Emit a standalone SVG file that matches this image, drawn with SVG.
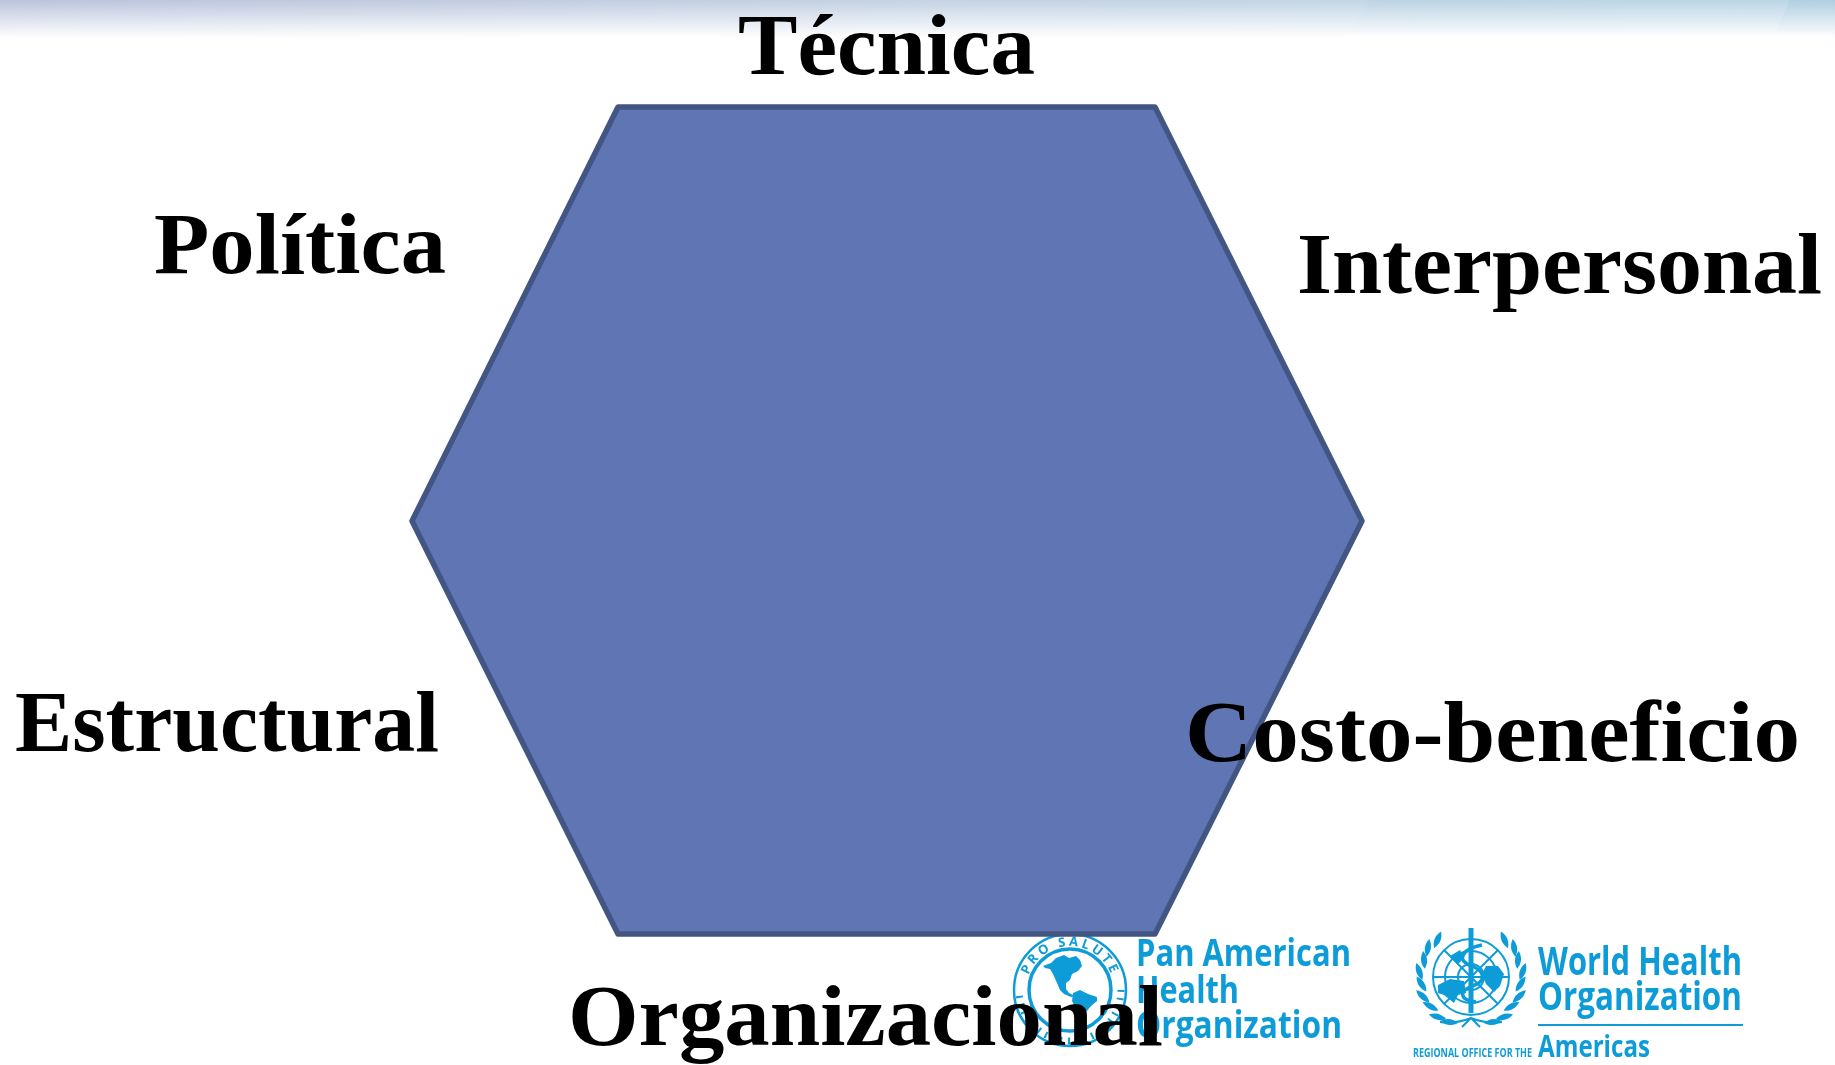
<svg xmlns="http://www.w3.org/2000/svg" xmlns:xlink="http://www.w3.org/1999/xlink" width="1835" height="1065" viewBox="0 0 1835 1065">
<style>
.lb{font-family:"Liberation Serif","DejaVu Serif",serif;font-weight:700;font-size:86px;fill:#000}
.lg{font-family:"Open Sans","Liberation Sans",sans-serif;font-weight:700;fill:#119cd8}
.ink{fill:#119cd8}
.rg{fill:none;stroke:#119cd8}
</style>
<defs>
<linearGradient id="h" x1="0" y1="0" x2="1" y2="0"><stop offset="0" stop-color="#bcc4dc"/><stop offset=".5" stop-color="#c4d2e3"/><stop offset="1" stop-color="#bfd8e6"/></linearGradient>
<linearGradient id="v" x1="0" y1="0" x2="0" y2="1"><stop offset="0" stop-color="#fff" stop-opacity="0"/><stop offset="1" stop-color="#fff"/></linearGradient>
<filter id="soft" x="-5%" y="-5%" width="110%" height="110%"><feGaussianBlur stdDeviation=".6"/></filter>
<path id="leaf" d="M0-9C4-3 4 3 0 9C-4 3-4-3 0-9Z" class="ink"/>
<path id="ring" d="M1026 990a44 44 0 0 1 88 0a44 44 0 0 1-88 0"/>
</defs>
<g id="banner">
<rect width="1835" height="38" fill="url(#h)"/>
<path d="M1370 0H1835V34H1350Z" fill="#aacde0" opacity=".2"/>
<path d="M1790 0H1835V34H1775Z" fill="#8fbdd4" opacity=".25"/>
<rect width="1835" height="38" fill="url(#v)"/>
</g>
<g id="paho-logo" filter="url(#soft)">
<circle cx="1070" cy="990" r="56" class="rg" stroke-width="2.500"/>
<circle cx="1070" cy="990" r="41" class="rg" stroke-width="3.500"/>
<path class="rg" stroke-width="7" stroke-dasharray="2 6" d="M1121 990a51 51 0 0 1-102 0"/>
<text class="lg" font-size="13" letter-spacing="3"><textPath xlink:href="#ring" href="#ring" startOffset="5.500%">PRO SALUTE</textPath></text>
<path class="ink" d="M1043 966l8-3 5-5 8-3 5 3 7-2 4 4 2 6-4 5-6 3-2 6-4 3 0 6 3 4 6 3-4 1-7-3-4-4-3-7-4-9-3-5-5-1Z"/>
<path class="ink" d="M1073 993l7-3 8 4 9 3 0 4-6 5-5 6-3 8-4 2-1-7-3-8-3-6Z"/>
<text class="lg" x="1136" y="966" font-size="38" textLength="215" lengthAdjust="spacingAndGlyphs">Pan American</text>
<text class="lg" x="1136" y="1003" font-size="38" textLength="103" lengthAdjust="spacingAndGlyphs">Health</text>
<text class="lg" x="1136" y="1038" font-size="38" textLength="206" lengthAdjust="spacingAndGlyphs">Organization</text>
</g>
<g id="who-logo" filter="url(#soft)">
<circle cx="1471" cy="977" r="38" class="rg" stroke-width="2"/>
<circle cx="1471" cy="977" r="26" class="rg" stroke-width="2"/>
<circle cx="1471" cy="977" r="13" class="rg" stroke-width="2"/>
<path class="rg" stroke-width="2" d="M1433 977H1509M1444 950L1498 1004M1498 950L1444 1004"/>
<path class="ink" d="M1468.500 928h5v85h-5Z"/>
<path class="rg" stroke-width="3.500" d="M1482 945C1458 950 1458 962 1472 966C1486 972 1486 982 1472 986C1458 992 1460 1000 1476 1002"/>
<path class="ink" d="M1438 985l12-6 14 2 2 12-8 2-4 8-10-8-6-2ZM1486 966l12 0 6 8-4 12-6 6-8-8-4-10ZM1450 956l10-6 4 8-6 6Z"/>
<g id="wreath">
<use href="#leaf" transform="rotate(-42 1471 977) translate(1471 927) rotate(65)"/>
<use href="#leaf" transform="rotate(-56 1471 977) translate(1471 925) rotate(65)"/>
<use href="#leaf" transform="rotate(-70 1471 977) translate(1471 927) rotate(65)"/>
<use href="#leaf" transform="rotate(-84 1471 977) translate(1471 925) rotate(65)"/>
<use href="#leaf" transform="rotate(-98 1471 977) translate(1471 927) rotate(65)"/>
<use href="#leaf" transform="rotate(-112 1471 977) translate(1471 925) rotate(65)"/>
<use href="#leaf" transform="rotate(-126 1471 977) translate(1471 927) rotate(65)"/>
<use href="#leaf" transform="rotate(-140 1471 977) translate(1471 925) rotate(65)"/>
<use href="#leaf" transform="rotate(-154 1471 977) translate(1471 927) rotate(70)"/>
<use href="#leaf" transform="rotate(42 1471 977) translate(1471 927) rotate(-65)"/>
<use href="#leaf" transform="rotate(56 1471 977) translate(1471 925) rotate(-65)"/>
<use href="#leaf" transform="rotate(70 1471 977) translate(1471 927) rotate(-65)"/>
<use href="#leaf" transform="rotate(84 1471 977) translate(1471 925) rotate(-65)"/>
<use href="#leaf" transform="rotate(98 1471 977) translate(1471 927) rotate(-65)"/>
<use href="#leaf" transform="rotate(112 1471 977) translate(1471 925) rotate(-65)"/>
<use href="#leaf" transform="rotate(126 1471 977) translate(1471 927) rotate(-65)"/>
<use href="#leaf" transform="rotate(140 1471 977) translate(1471 925) rotate(-65)"/>
<use href="#leaf" transform="rotate(154 1471 977) translate(1471 927) rotate(-70)"/>
<path class="rg" stroke-width="2" d="M1440 1022Q1456 1024 1471 1018Q1486 1024 1502 1022M1462 1027L1471 1018L1480 1027"/>
</g>
<text class="lg" x="1538" y="975" font-size="39" textLength="204" lengthAdjust="spacingAndGlyphs">World Health</text>
<text class="lg" x="1538" y="1010" font-size="39" textLength="204" lengthAdjust="spacingAndGlyphs">Organization</text>
<rect x="1538" y="1024" width="205" height="2" class="ink"/>
<text class="lg" x="1538" y="1057" font-size="30" textLength="112" lengthAdjust="spacingAndGlyphs">Americas</text>
<text class="lg" x="1413" y="1057" font-size="13" textLength="119" lengthAdjust="spacingAndGlyphs">REGIONAL OFFICE FOR THE</text>
</g>
<g id="hexagon">
<polygon points="618,107 1155,107 1362,521 1155,934 618,934 412,521" fill="#6076b4" stroke="#435583" stroke-width="5.500" stroke-linejoin="round"/>
</g>
<g id="label-tecnica"><text class="lb" x="738" y="74" textLength="297" lengthAdjust="spacingAndGlyphs">Técnica</text></g>
<g id="label-politica"><text class="lb" x="154" y="273" textLength="292" lengthAdjust="spacingAndGlyphs">Política</text></g>
<g id="label-interpersonal"><text class="lb" x="1297" y="293" textLength="525" lengthAdjust="spacingAndGlyphs">Interpersonal</text></g>
<g id="label-estructural"><text class="lb" x="15" y="751" textLength="424" lengthAdjust="spacingAndGlyphs">Estructural</text></g>
<g id="label-costo"><text class="lb" x="1185" y="761" textLength="615" lengthAdjust="spacingAndGlyphs">Costo-beneficio</text></g>
<g id="label-organizacional"><text class="lb" x="568" y="1045" textLength="595" lengthAdjust="spacingAndGlyphs">Organizacional</text></g>
</svg>
